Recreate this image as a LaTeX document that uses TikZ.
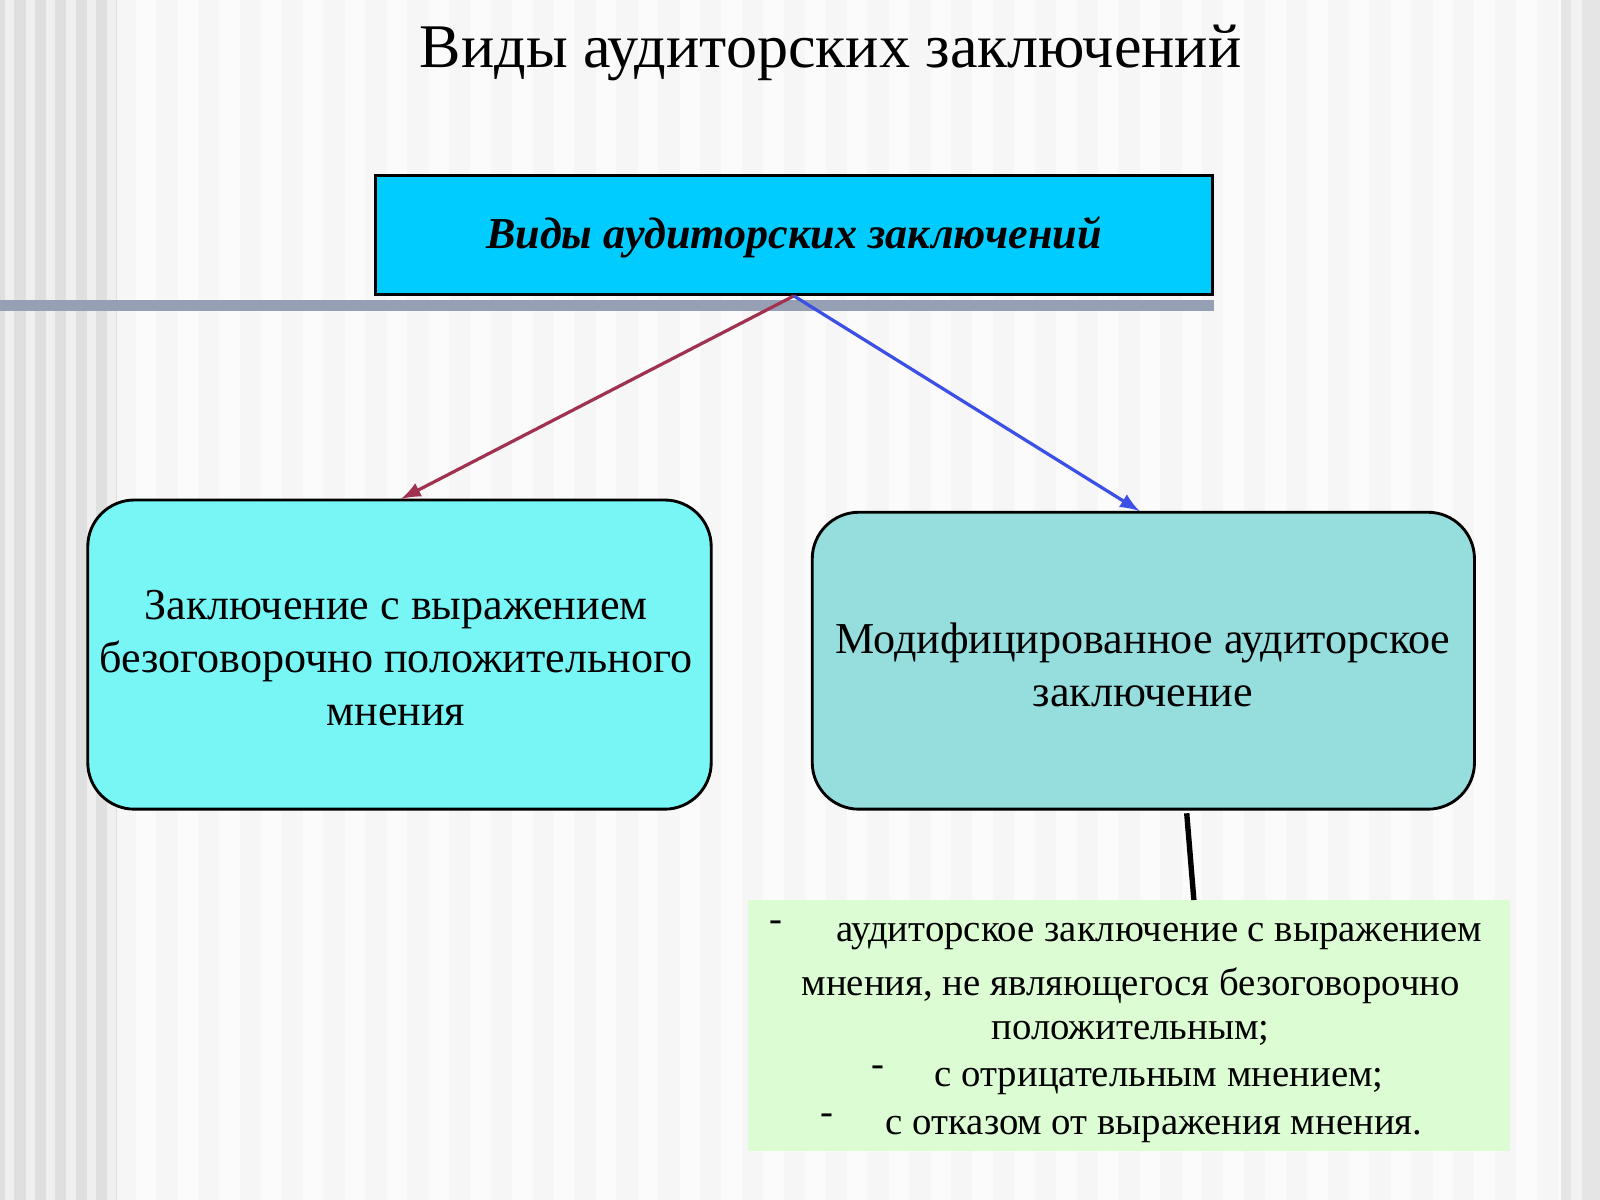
\documentclass[tikz,border=0pt]{standalone}
\usepackage{fontspec}
\setmainfont{Liberation Serif}
\definecolor{topc}{RGB}{0,204,255}
\definecolor{leftc}{RGB}{120,245,245}
\definecolor{rightc}{RGB}{150,222,222}
\definecolor{greenc}{RGB}{220,252,212}
\definecolor{redarr}{RGB}{160,50,80}
\definecolor{bluearr}{RGB}{60,80,230}
\definecolor{barc}{RGB}{150,160,180}
\begin{document}
\begin{tikzpicture}[x=0.01cm,y=-0.01cm,
  txt/.style={inner sep=0pt, font=\fontsize{12.3}{14.8}\selectfont},
  gtxt/.style={inner sep=0pt, font=\fontsize{10.8}{12}\selectfont},
  arr/.style={-latex, line width=0.9pt}]
\useasboundingbox (0,0) rectangle (1568,1176);
\fill[gray!7] (0,0) rectangle (1568,1176);
\foreach \i in {0,...,38}{\fill[white,opacity=0.6] (\i*41+10,0) rectangle (\i*41+30,1176);}
\fill[gray!25] (0,0) rectangle (115,1176);
\foreach \i in {0,...,5}{\fill[white,opacity=0.5] (\i*20+5,0) rectangle (\i*20+14,1176);}
\fill[gray!20] (1530,0) rectangle (1568,1176);
\fill[white,opacity=0.5] (1540,0) rectangle (1550,1176);
\fill[barc] (0,294) rectangle (1190,305);
\node[txt,font=\fontsize{17.3}{20}\selectfont] (title) at (814,52) {Виды аудиторских заключений};
\path[draw=black,line width=0.8pt, fill=topc] (368,172) rectangle (1188,289);
\node[txt,font=\fontsize{12.3}{14}\selectfont\bfseries\itshape] (toptxt) at (778,233) {Виды аудиторских заключений};
\coordinate (src) at (778,290);
\path[draw=black,line width=0.8pt, fill=leftc, rounded corners=13pt] (86,490) rectangle (697,793);
\coordinate (lt) at (393,489);
\node[txt, align=center] (ltxt) at (388,645) {Заключение с выражением\\безоговорочно положительного\\мнения};
\path[draw=black,line width=0.8pt, fill=rightc, rounded corners=13pt] (796,502) rectangle (1445,793);
\coordinate (rt) at (1117,501);
\node[txt, align=center] (rtxt) at (1120,652) {Модифицированное аудиторское\\заключение};
\draw[arr, color=redarr] (src) -- (lt);
\draw[arr, color=bluearr] (src) -- (rt);
\fill[greenc] (733,882) rectangle (1480,1128);
\coordinate (rb) at (1163,797);
\coordinate (gt) at (1170,882);
\draw[line width=1.5pt] (rb) -- (gt);
\node[gtxt] (d1) at (760,908) {-};
\node[gtxt] (g1) at (1136,918) {аудиторское заключение с выражением};
\node[gtxt] (g2) at (1108,966) {мнения, не являющегося безоговорочно};
\node[gtxt] (g3) at (1108,1013) {положительным;};
\node[gtxt] (d2) at (860,1050) {-};
\node[gtxt] (g4) at (1136,1060) {с отрицательным мнением;};
\node[gtxt] (d3) at (810,1097) {-};
\node[gtxt] (g5) at (1131,1107) {с отказом от выражения мнения.};
\end{tikzpicture}
\end{document}
